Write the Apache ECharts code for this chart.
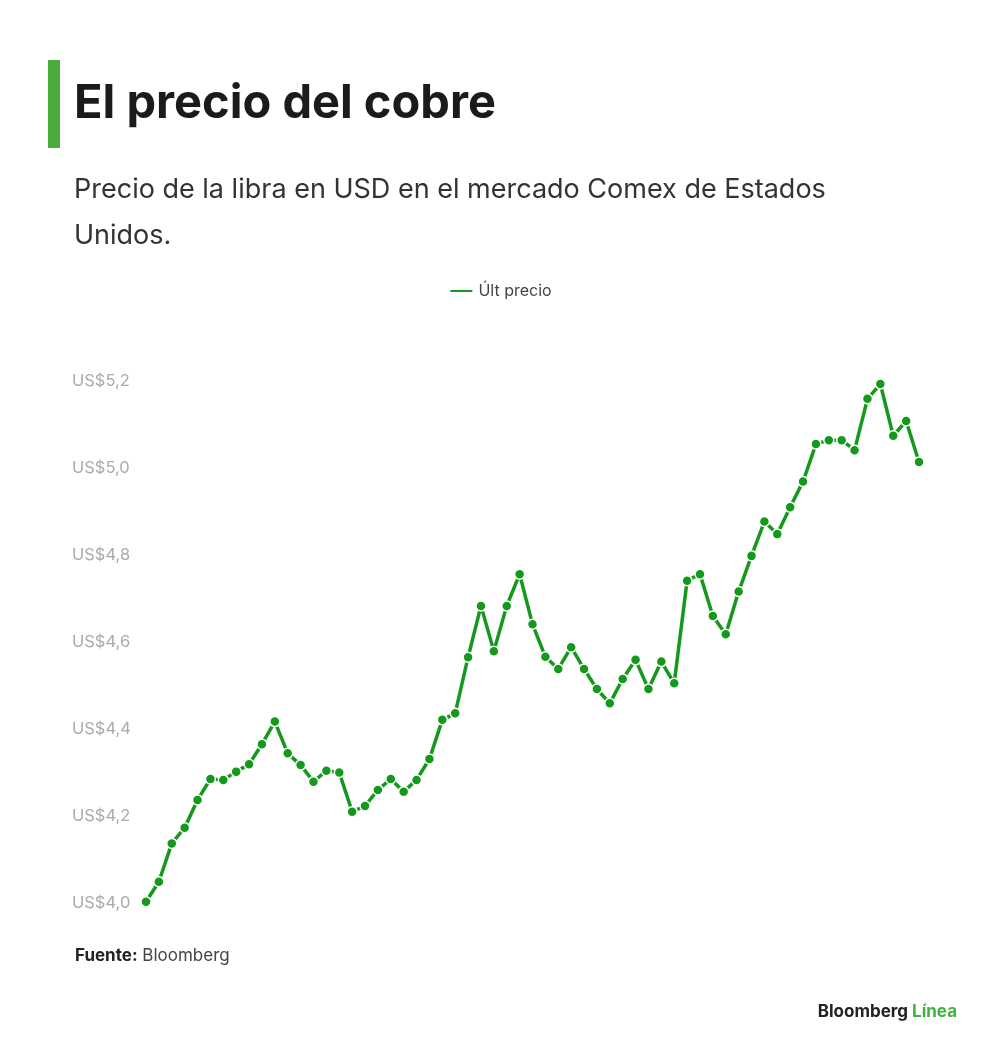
<!DOCTYPE html>
<html>
<head>
    <meta charset="utf-8">
    <title>El precio del cobre</title>
    <script src="https://cdn.jsdelivr.net/npm/echarts@6/dist/echarts.min.js"></script>
    <style>
        html, body { margin: 0; padding: 0; background: #fff; }
    </style>
</head>
<body>
    <div id="main" style="width: 1000px;height:1054px;"></div>
    <script type="text/javascript">
        // precio del cobre, USD por libra
        var precios = [
            4.003, 4.049, 4.137, 4.173, 4.237, 4.285, 4.283, 4.302, 4.319, 4.365,
            4.417, 4.344, 4.317, 4.279, 4.304, 4.300, 4.210, 4.223, 4.260, 4.285,
            4.256, 4.283, 4.331, 4.421, 4.436, 4.565, 4.683, 4.579, 4.683, 4.756,
            4.641, 4.566, 4.538, 4.588, 4.538, 4.492, 4.459, 4.515, 4.559, 4.492,
            4.555, 4.505, 4.741, 4.756, 4.660, 4.618, 4.716, 4.798, 4.877, 4.848,
            4.910, 4.969, 5.055, 5.064, 5.064, 5.041, 5.159, 5.193, 5.074, 5.108,
            5.014
        ];
        var nombreSerie = 'Últ precio';
        var yMin = 4.0, yMax = 5.2, yPaso = 0.2;

        var verde = '#14991c';
        var fuente = 'Inter, "Liberation Sans", sans-serif';

        var myChart = echarts.init(document.getElementById('main'));

        var option = {
            backgroundColor: '#fff',
            animation: false,
            textStyle: { fontFamily: fuente },
            title: [
                {
                    text: 'El precio del cobre',
                    left: 69, top: 75,
                    textStyle: { fontSize: 47, fontWeight: 'bold', color: '#1b1b1b', fontFamily: fuente }
                },
                {
                    text: 'Precio de la libra en USD en el mercado Comex de Estados\nUnidos.',
                    left: 69, top: 162,
                    textStyle: { fontSize: 27, fontWeight: 'normal', color: '#333', lineHeight: 46, fontFamily: fuente }
                },
                {
                    text: '{b|Fuente:} Bloomberg',
                    left: 70, top: 942,
                    textStyle: {
                        fontSize: 17, color: '#444', fontWeight: 'normal', fontFamily: fuente,
                        rich: { b: { fontSize: 17, fontWeight: 'bold', color: '#222', fontFamily: fuente } }
                    }
                },
                {
                    text: 'Bloomberg {g|Línea}',
                    right: 38, top: 998,
                    textStyle: {
                        fontSize: 17, color: '#222', fontWeight: 'bold', fontFamily: fuente,
                        rich: { g: { fontSize: 17, fontWeight: 'bold', color: '#3db53a', fontFamily: fuente } }
                    }
                }
            ],
            graphic: [
                {
                    type: 'rect',
                    shape: { x: 48, y: 60, width: 12, height: 88 },
                    style: { fill: '#4aad3b' }
                }
            ],
            legend: {
                top: 278,
                left: 'center',
                itemWidth: 24,
                itemHeight: 4,
                icon: 'rect',
                data: [nombreSerie],
                textStyle: { fontSize: 16, color: '#444', fontFamily: fuente }
            },
            grid: { left: 146, right: 81, top: 381, bottom: 151, containLabel: false },
            xAxis: {
                type: 'category',
                boundaryGap: false,
                show: false
            },
            yAxis: {
                type: 'value',
                min: yMin,
                max: yMax,
                interval: yPaso,
                splitLine: { show: false },
                axisLine: { show: false },
                axisTick: { show: false },
                axisLabel: {
                    align: 'left',
                    margin: 74,
                    color: '#aaa',
                    fontSize: 16.5,
                    fontFamily: fuente,
                    formatter: function (v) { return 'US$' + v.toFixed(1).replace('.', ','); }
                }
            },
            series: [
                {
                    name: nombreSerie,
                    type: 'line',
                    data: precios,
                    symbol: 'circle',
                    symbolSize: 10,
                    showAllSymbol: true,
                    lineStyle: { color: verde, width: 3.5 },
                    itemStyle: { color: verde, borderColor: '#fff', borderWidth: 1.5 }
                }
            ]
        };

        myChart.setOption(option);
    </script>
</body>
</html>
